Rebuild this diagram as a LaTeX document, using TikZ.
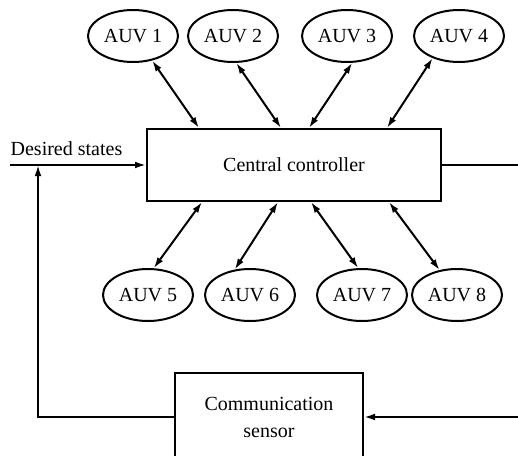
\documentclass[tikz,border=0pt]{standalone}
\usepackage{fontspec}
\setmainfont{Liberation Serif}
\usetikzlibrary{shapes.geometric,arrows.meta,calc}
\tikzset{
	auv/.style = {draw, ellipse, minimum width = 45pt, minimum height = 26pt, inner sep = 0pt},
	blk/.style = {draw, rectangle, align = center},
	>={Latex[length = 5.5pt, width = 3.4pt]}
}
\begin{document}
\begin{tikzpicture}[x = 0.5pt, y = -0.5pt, line width = 1pt]
	\useasboundingbox (0,0) rectangle (518,455);
	\foreach \i/\x in {1/133,2/233,3/347,4/459}{
			\node (auv\i)[auv] at(\x, 36) {AUV \i};
		}
	\foreach \i/\x in {5/148,6/250,7/362,8/457}{
			\node (auv\i)[auv] at(\x, 295) {AUV \i};
		}
	\node (cc)[blk, minimum width = 147pt, minimum height = 36pt] at(294, 165) {Central controller};
	\node (cs)[blk, minimum width = 94pt, minimum height = 44pt] at(269, 417) {Communication\\[1.5pt]sensor};
	\node (ds)[anchor = base west] at(3, 155) {Desired states};

	\foreach \i/\a/\x in {1/-52/53,2/-83/135,3/-79/163,4/-140/241}{
			\draw [<->](auv\i.\a)--($(cc.north west)+(\x,0)$);
		}
	\foreach \i/\a/\x in {5/78/56,6/121/132,7/98/165,8/125/243}{
			\draw [<->](auv\i.\a)--($(cc.south west)+(\x,0)$);
		}

	\coordinate (in) at(10, 165);
	\coordinate (out) at(520, 165);
	\coordinate (fb) at(38, 165);
	\coordinate (ret) at(520, 417);
	\draw [->](in)--(cc.west);
	\draw (cc.east)--(out);
	\draw [->](cs.west)-|(fb);
	\draw [->](ret)--(cs.east);
\end{tikzpicture}
\end{document}
